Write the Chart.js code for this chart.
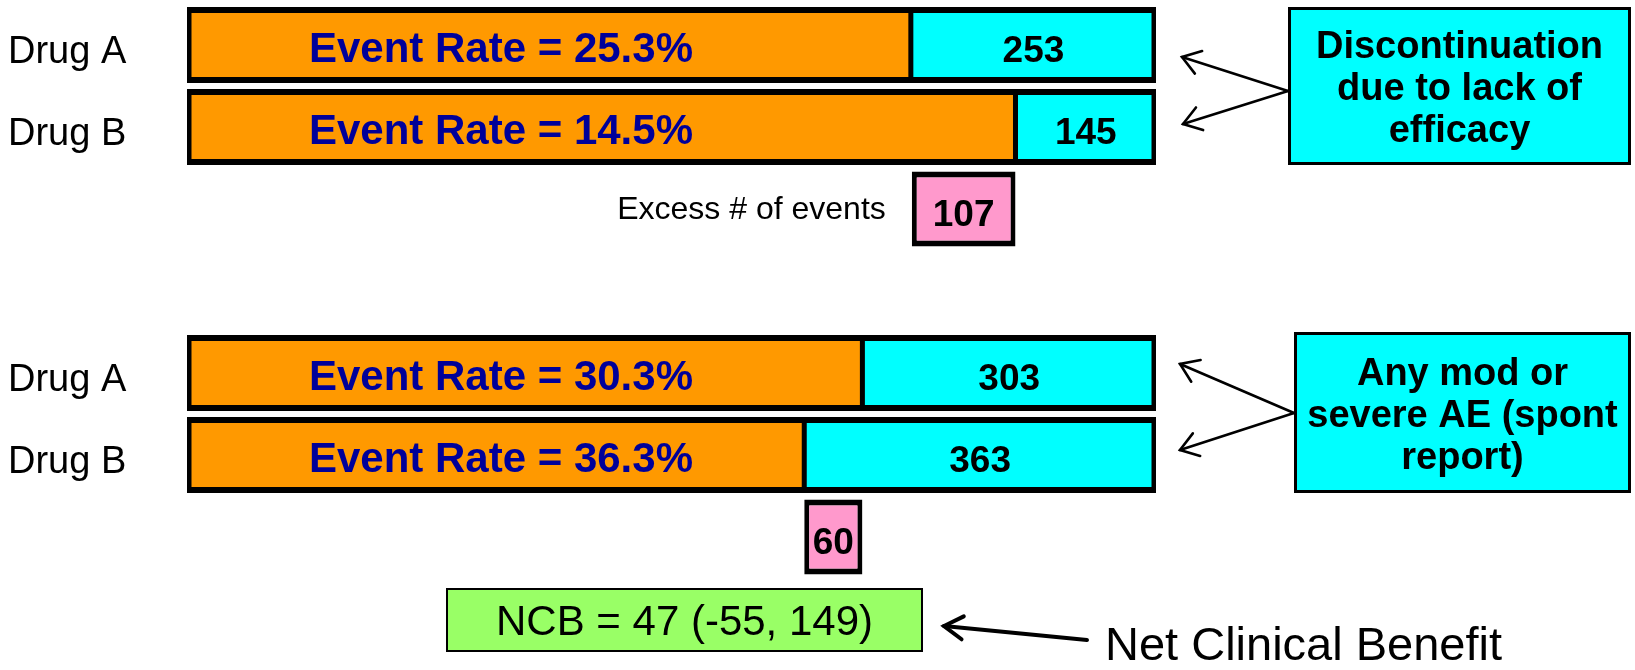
<!DOCTYPE html>
<html>
<head>
<meta charset="utf-8">
<title>Net Clinical Benefit</title>
<script src="https://cdn.jsdelivr.net/npm/chart.js@4.4.1/dist/chart.umd.min.js"></script>
<style>
  html, body { margin: 0; padding: 0; background: #fff; }
  canvas { display: block; }
</style>
</head>
<body>
<canvas id="ncb" width="1635" height="670"></canvas>
<script>
// rows of the y axis, top to bottom
const rowKeys = ['effA', 'effB', 'effExcess', 'gap', 'aeA', 'aeB', 'aeExcess', 'ncb'];
const drugLabels = ['Drug A', 'Drug B', '', '', 'Drug A', 'Drug B', '', ''];

// patients out of 1000: without the event / with the event
const noEvents = [747, 855, null, null, 697, 637, null, null];
const events = [253, 145, null, null, 303, 363, null, null];
const excessEvents = [null, null, 107, null, null, null, 60, null];

const outcomeLines = [
  ['Discontinuation', 'due to lack of', 'efficacy'],
  ['Any mod or', 'severe AE (spont', 'report)']
];
const excessCaption = 'Excess # of events';
const ncbText = 'NCB = 47 (-55, 149)';
const ncbCaption = 'Net Clinical Benefit';

const FONT = '"Liberation Sans", Arial, Helvetica, sans-serif';
const ORANGE = '#FF9900';
const CYAN = '#00FFFF';
const PINK = '#FF99CC';
const GREEN = '#99FF66';
const NAVY = '#000099';

// excess box spans the gap between the two drugs' boundaries
const excessData = excessEvents.map((v, i) => {
  if (v == null) return null;
  const end = Math.max(noEvents[i - 2], noEvents[i - 1]);
  return [end - v, end];
});

function arrow(ctx, x0, y0, x1, y1, len, ang, lw) {
  ctx.save();
  ctx.strokeStyle = '#000';
  ctx.lineWidth = lw;
  ctx.lineCap = 'round';
  ctx.lineJoin = 'miter';
  ctx.beginPath();
  ctx.moveTo(x0, y0);
  ctx.lineTo(x1, y1);
  ctx.stroke();
  const a = Math.atan2(y0 - y1, x0 - x1);
  ctx.beginPath();
  ctx.moveTo(x1 + len * Math.cos(a - ang), y1 + len * Math.sin(a - ang));
  ctx.lineTo(x1, y1);
  ctx.lineTo(x1 + len * Math.cos(a + ang), y1 + len * Math.sin(a + ang));
  ctx.stroke();
  ctx.restore();
}

function textBox(ctx, x, y, w, h, fill, lw) {
  ctx.save();
  ctx.fillStyle = fill;
  ctx.fillRect(x, y, w, h);
  ctx.strokeStyle = '#000';
  ctx.lineWidth = lw;
  ctx.strokeRect(x + lw / 2, y + lw / 2, w - lw, h - lw);
  ctx.restore();
}

// outcome boxes on the right, with arrows pointing back at the bar pairs
const outcomeBoxes = [
  { x: 1288, y: 7, w: 343, h: 158, from: [1288, 91], tips: [[1182, 57], [1183, 124]] },
  { x: 1294, y: 332, w: 337, h: 161, from: [1294, 413], tips: [[1180, 364], [1180, 450]] }
];

const labelPlugin = {
  id: 'ncbLabels',
  afterDatasetsDraw(chart) {
    const ctx = chart.ctx;
    const y = chart.scales.y;
    const x = chart.scales.x;
    const cyanMeta = chart.getDatasetMeta(1);
    const pinkMeta = chart.getDatasetMeta(2);

    ctx.save();
    ctx.textBaseline = 'alphabetic';

    rowKeys.forEach((key, i) => {
      const yc = y.getPixelForValue(i);

      if (drugLabels[i]) {
        ctx.fillStyle = '#000';
        ctx.font = '38px ' + FONT;
        ctx.textAlign = 'left';
        ctx.fillText(drugLabels[i], 8, yc + 18);
      }

      if (noEvents[i] != null) {
        ctx.fillStyle = NAVY;
        ctx.font = 'bold 42px ' + FONT;
        ctx.textAlign = 'center';
        ctx.fillText('Event Rate = ' + (events[i] / 10).toFixed(1) + '%', x.getPixelForValue(324), yc + 17);

        const bar = cyanMeta.data[i];
        ctx.fillStyle = '#000';
        ctx.font = 'bold 37px ' + FONT;
        ctx.fillText(String(events[i]), (bar.x + bar.base) / 2, yc + 17);
      }

      if (excessEvents[i] != null) {
        const bar = pinkMeta.data[i];
        ctx.fillStyle = '#000';
        ctx.font = 'bold 37px ' + FONT;
        ctx.textAlign = 'center';
        ctx.fillText(String(excessEvents[i]), (bar.x + bar.base) / 2, yc + 17);
      }
    });

    // caption next to the first excess box
    const firstExcess = pinkMeta.data[2];
    ctx.fillStyle = '#000';
    ctx.font = '32px ' + FONT;
    ctx.textAlign = 'right';
    ctx.fillText(excessCaption, Math.min(firstExcess.x, firstExcess.base) - 26, y.getPixelForValue(2) + 10);

    // outcome boxes
    outcomeBoxes.forEach((b, k) => {
      textBox(ctx, b.x, b.y, b.w, b.h, CYAN, 3);
      ctx.fillStyle = '#000';
      ctx.font = 'bold 38px ' + FONT;
      ctx.textAlign = 'center';
      const cx = b.x + b.w / 2;
      const cy = b.y + b.h / 2;
      outcomeLines[k].forEach((line, j) => {
        ctx.fillText(line, cx, cy + 14 + (j - 1) * 42);
      });
      b.tips.forEach(t => arrow(ctx, b.from[0], b.from[1], t[0], t[1], 21, 0.6, 2.6));
    });

    // net clinical benefit
    const ncbY = y.getPixelForValue(7);
    textBox(ctx, 446, ncbY - 31, 477, 64, GREEN, 2);
    ctx.fillStyle = '#000';
    ctx.font = '42px ' + FONT;
    ctx.textAlign = 'center';
    ctx.fillText(ncbText, 446 + 477 / 2, ncbY + 16);

    arrow(ctx, 1087, 640, 944, 626, 22, 0.55, 4);
    ctx.font = '47px ' + FONT;
    ctx.textAlign = 'left';
    ctx.fillText(ncbCaption, 1105, 660);

    ctx.restore();
  }
};

new Chart(document.getElementById('ncb'), {
  type: 'bar',
  data: {
    labels: rowKeys,
    datasets: [
      {
        label: 'No event',
        data: noEvents,
        backgroundColor: ORANGE,
        borderColor: '#000',
        borderWidth: { top: 6, bottom: 6, left: 5, right: 3 },
        borderSkipped: false,
        barThickness: 75,
        inflateAmount: 0.5
      },
      {
        label: 'Event',
        data: events,
        backgroundColor: CYAN,
        borderColor: '#000',
        borderWidth: { top: 6, bottom: 6, left: 3, right: 5 },
        borderSkipped: false,
        barThickness: 75,
        inflateAmount: 0.5
      },
      {
        label: 'Excess',
        data: excessData,
        backgroundColor: PINK,
        borderColor: '#000',
        borderWidth: { top: 6, bottom: 6, left: 5, right: 5 },
        borderSkipped: false,
        barThickness: 75,
        inflateAmount: 0
      }
    ]
  },
  options: {
    responsive: false,
    animation: false,
    indexAxis: 'y',
    layout: { padding: { left: 187, right: 479, top: 4, bottom: 10 } },
    scales: {
      x: { min: 0, max: 1000, stacked: true, display: false },
      y: { stacked: true, display: false }
    },
    plugins: {
      legend: { display: false },
      tooltip: { enabled: false }
    }
  },
  plugins: [labelPlugin]
});
</script>
</body>
</html>
